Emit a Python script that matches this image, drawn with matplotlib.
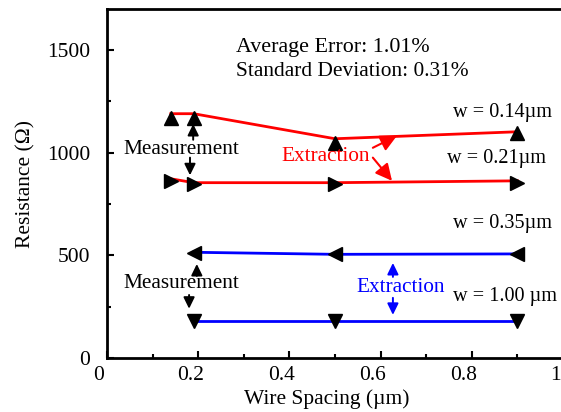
import matplotlib
matplotlib.use("Agg")
import matplotlib.pyplot as plt
from matplotlib.ticker import MultipleLocator
import matplotlib.transforms as mtransforms

plt.rcParams['font.family'] = ['Liberation Serif', 'DejaVu Serif']

# ---- data ----
x_red = [0.14, 0.19, 0.50, 0.90]
w014_meas = [1171, 1171, 1049, 1095]
w014_extr = [1190, 1190, 1068, 1102]
w021_meas = [863, 849, 849, 854]
w021_extr = [873, 854, 854, 863]

x_blue = [0.19, 0.50, 0.90]
w035_meas = [510, 505, 505]
w035_extr = [515, 505, 507]
w100_meas = [180, 180, 180]
w100_extr = [180, 180, 180]

x_ticks = [0, 0.2, 0.4, 0.6, 0.8, 1.0]
x_ticklabels = ['0', '0.2', '0.4', '0.6', '0.8', '1']
y_ticks = [0, 500, 1000, 1500]

fig = plt.figure(figsize=(5.61, 4.12), dpi=100)
ax = fig.add_axes([107/561, 54/412, 456/561, 349/412])

red = '#ff0000'
blue = '#0000ff'
ax.plot(x_red, w014_extr, color=red, lw=2.0, zorder=2)
ax.plot(x_red, w021_extr, color=red, lw=2.0, zorder=2)
ax.plot(x_blue, w035_extr, color=blue, lw=2.0, zorder=2)
ax.plot(x_blue, w100_extr, color=blue, lw=2.0, zorder=2)

ax.plot(x_red, w014_meas, ls='none', marker='^', ms=10, color='black', zorder=3)
ax.plot(x_red, w021_meas, ls='none', marker='>', ms=10, color='black', zorder=3)
ax.plot(x_blue, w035_meas, ls='none', marker='<', ms=10, color='black', zorder=3)
ax.plot(x_blue, w100_meas, ls='none', marker='v', ms=10, color='black', zorder=3)

ax.set_xlim(0, 1.0)
ax.set_ylim(0, 1700)
ax.set_xticks(x_ticks)
ax.set_xticklabels(x_ticklabels)
ax.set_yticks(y_ticks)
ax.xaxis.set_minor_locator(MultipleLocator(0.1))
ax.yaxis.set_minor_locator(MultipleLocator(250))
ax.tick_params(which='both', direction='in', width=1.5, labelsize=15.5)
ax.tick_params(which='major', length=5)
ax.tick_params(which='minor', length=3)
ax.tick_params(axis='y', pad=12)
ax.tick_params(axis='x', pad=6)
for s in ['left', 'bottom', 'top']:
    ax.spines[s].set_linewidth(2)
ax.spines['right'].set_visible(False)

off = mtransforms.ScaledTranslation(-8/100, 0, fig.dpi_scale_trans)
for lab in ax.get_xticklabels():
    lab.set_transform(lab.get_transform() + off)

ax.set_xlabel('Wire Spacing (µm)', fontsize=15.5, labelpad=3)
ax.xaxis.label.set_transform(ax.xaxis.label.get_transform() + off)
ax.set_ylabel('Resistance (Ω)', fontsize=15.5, labelpad=8)

ax.text(0.283, 1513, 'Average Error: 1.01%', fontsize=15.8, va='center')
ax.text(0.283, 1395, 'Standard Deviation: 0.31%', fontsize=15.4, va='center')

fw = 14.6
ax.text(0.759, 1195, 'w = 0.14µm', fontsize=fw, va='center')
ax.text(0.746, 970, 'w = 0.21µm', fontsize=fw, va='center')
ax.text(0.759, 654, 'w = 0.35µm', fontsize=fw, va='center')
ax.text(0.759, 298, 'w = 1.00 µm', fontsize=fw, va='center')

fm = 15.3
ax.text(0.037, 1015, 'Measurement', fontsize=fm, va='center')
ax.text(0.035, 361, 'Measurement', fontsize=fm, va='center')
ax.text(0.382, 980, 'Extraction', fontsize=fm, va='center', color=red)
ax.text(0.548, 341, 'Extraction', fontsize=fm, va='center', color=blue)

# black arrows
akw = dict(arrowstyle='-|>,head_length=0.45,head_width=0.22', color='black', lw=1.4,
           mutation_scale=15, shrinkA=0, shrinkB=0)
ax.annotate('', xy=(0.189, 1140), xytext=(0.189, 1063), arrowprops=akw)
ax.annotate('', xy=(0.182, 890), xytext=(0.182, 976), arrowprops=akw)
ax.annotate('', xy=(0.197, 458), xytext=(0.197, 400), arrowprops=akw)
ax.annotate('', xy=(0.180, 240), xytext=(0.180, 307), arrowprops=akw)

# red arrows
rkw = dict(arrowstyle='-|>,head_length=0.5,head_width=0.25', color=red, lw=1.5,
           mutation_scale=20, shrinkA=0, shrinkB=0)
ax.annotate('', xy=(0.636, 1083), xytext=(0.583, 1024), arrowprops=rkw)
ax.annotate('', xy=(0.625, 863), xytext=(0.583, 976), arrowprops=rkw)

# blue arrows
bkw = dict(arrowstyle='-|>,head_length=0.45,head_width=0.22', color=blue, lw=1.4,
           mutation_scale=15, shrinkA=0, shrinkB=0)
ax.annotate('', xy=(0.627, 463), xytext=(0.627, 395), arrowprops=bkw)
ax.annotate('', xy=(0.627, 210), xytext=(0.627, 293), arrowprops=bkw)

fig.savefig('out.png', dpi=100)
